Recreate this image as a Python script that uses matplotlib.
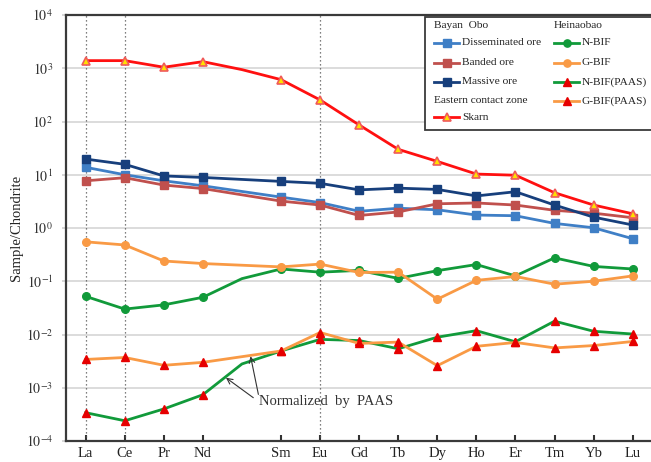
import matplotlib.pyplot as plt
from matplotlib.lines import Line2D
from matplotlib.patches import Rectangle
import numpy as np

plt.rcParams['font.family'] = ['Liberation Serif', 'DejaVu Serif']
plt.rcParams['mathtext.fontset'] = 'stix'

nan = np.nan
elements = ['La', 'Ce', 'Pr', 'Nd', 'Pm', 'Sm', 'Eu', 'Gd', 'Tb', 'Dy', 'Ho', 'Er', 'Tm', 'Yb', 'Lu']
tick_elements = [e for e in elements if e != 'Pm']

# chondrite-normalised REE (Pm only where the curve bends through it)
disseminated = [13.8, 10.0, 7.7, 6.2, nan, 3.8, 3.0, 2.06, 2.35, 2.2, 1.75, 1.7, 1.22, 1.01, 0.63]
banded = [7.7, 8.8, 6.4, 5.5, nan, 3.2, 2.7, 1.72, 2.0, 2.85, 2.95, 2.7, 2.15, 1.9, 1.56]
massive = [19.7, 15.7, 9.5, 8.9, nan, 7.5, 6.9, 5.2, 5.6, 5.3, 4.0, 4.8, 2.7, 1.6, 1.14]
skarn = [1390, 1390, 1045, 1330, 942, 611, 254, 86, 30, 17.8, 10.3, 9.8, 4.6, 2.7, 1.85]
n_bif = [0.052, 0.030, 0.036, 0.050, 0.112, 0.17, 0.148, 0.16, 0.113, 0.158, 0.206, 0.126, 0.275, 0.19, 0.17]
g_bif = [0.55, 0.48, 0.24, 0.215, nan, 0.186, 0.21, 0.146, 0.148, 0.046, 0.104, 0.123, 0.088, 0.10, 0.126]
# PAAS-normalised BIF
n_bif_paas = [0.00034, 0.00024, 0.00040, 0.00074, 0.0028, 0.0049, 0.0081, 0.0077, 0.0054, 0.0089,
              0.0118, 0.0073, 0.0178, 0.0115, 0.0102]
g_bif_paas = [0.0034, 0.0037, 0.00264, 0.0030, nan, 0.0049, 0.0109, 0.0068, 0.0072, 0.0026,
              0.0060, 0.0071, 0.0056, 0.0062, 0.0074]

c_dis = '#3f7fc6'
c_ban = '#c0504d'
c_mas = '#173f7c'
c_red = '#ff1010'
c_grn = '#119a3a'
c_org = '#f99a45'

styles = [
    ('Disseminated ore', disseminated, dict(color=c_dis, marker='s', mfc=c_dis, mec=c_dis, ms=5.5)),
    ('Banded ore', banded, dict(color=c_ban, marker='s', mfc=c_ban, mec=c_ban, ms=5.5)),
    ('Massive ore', massive, dict(color=c_mas, marker='s', mfc=c_mas, mec=c_mas, ms=5.5)),
    ('Skarn', skarn, dict(color=c_red, marker='^', mfc='#ffe000', mec='#f05a5a', ms=6, mew=1.2)),
    ('N-BIF', n_bif, dict(color=c_grn, marker='o', mfc=c_grn, mec=c_grn, ms=5.5)),
    ('G-BIF', g_bif, dict(color=c_org, marker='o', mfc=c_org, mec=c_org, ms=5.5)),
    ('N-BIF(PAAS)', n_bif_paas, dict(color=c_grn, marker='^', mfc='#e60000', mec='#e60000', ms=6)),
    ('G-BIF(PAAS)', g_bif_paas, dict(color=c_org, marker='^', mfc='#e60000', mec='#e60000', ms=6)),
]

fig = plt.figure(figsize=(6.51, 4.62), dpi=100)
W, H = 651.0, 462.0
ax = fig.add_axes([65.7 / W, 21 / H, (660 - 65.7) / W, 426 / H])

for x in [0, 1, 6]:
    ax.axvline(x, color='#555555', lw=0.9, ls=(0, (1, 2.2)), zorder=1)

for name, vals, kw in styles:
    y = np.array(vals, dtype=float)
    x = np.arange(len(y))
    ok = ~np.isnan(y)
    xs, ys = x[ok], y[ok]
    marks = [i for i, xi in enumerate(xs) if xi != 4]
    ax.plot(xs, ys, lw=2.0, markevery=marks, zorder=3, **kw)

ax.set_yscale('log')
ax.set_ylim(1e-4, 1e4)
ax.set_xlim(-0.512, 14.7)
ax.set_yticks([10.0 ** k for k in range(-4, 5)])
ax.set_yticklabels([r'$10^{%d}$' % k for k in range(-4, 5)], fontsize=10, color='#333333')
ax.minorticks_off()
ax.set_xticks([i for i, e in enumerate(elements) if e != 'Pm'])
ax.set_xticklabels(tick_elements, fontsize=10.5, color='#222222')
ax.tick_params(axis='x', direction='in', length=4, width=1.5, color='#333333', pad=4)
ax.tick_params(axis='y', direction='out', length=3, width=1.2, color='#d0d0d0', pad=6)
ax.yaxis.grid(True, color='#d9d9d9', lw=1.3)
ax.set_axisbelow(True)
for side in ['left', 'bottom', 'top']:
    ax.spines[side].set_color('#3a3a3a')
    ax.spines[side].set_linewidth(1.6)
ax.spines['right'].set_visible(False)
ax.set_ylabel('Sample/Chondrite', fontsize=10.5, labelpad=2, color='#222222')

ax.text(4.44, 5.6e-4, 'Normalized  by  PAAS', fontsize=10.5, color='#333333', va='center', zorder=5)
arrow = dict(arrowstyle='->', color='#333333', lw=0.8, shrinkA=0, shrinkB=0)
ax.annotate('', xy=(3.59, 0.00154), xytext=(4.29, 0.00065), arrowprops=arrow, zorder=5)
ax.annotate('', xy=(4.22, 0.0039), xytext=(4.42, 0.00075), arrowprops=arrow, zorder=5)


# legend with group headings, laid out in figure pixels
def fx(px):
    return px / W


def fy(py):
    return 1 - py / H


fig.add_artist(Rectangle((fx(425), fy(130)), fx(680) - fx(425), fy(17) - fy(130),
                         transform=fig.transFigure, facecolor='white', edgecolor='#3a3a3a',
                         lw=1.3, zorder=10))

rows = [26, 42.7, 62.7, 82, 100.7, 117.3]
col1 = [('Bayan  Obo', None), ('Disseminated ore', 0), ('Banded ore', 1), ('Massive ore', 2),
        ('Eastern contact zone', None), ('Skarn', 3)]
col2 = [('Heinaobao', None), ('N-BIF', 4), ('G-BIF', 5), ('N-BIF(PAAS)', 6), ('G-BIF(PAAS)', 7)]
for x0, col in [(434, col1), (554, col2)]:
    for row_y, (label, idx) in zip(rows, col):
        if idx is None:
            fig.text(fx(x0), fy(row_y), label, fontsize=8.2, va='center', ha='left',
                     color='#222222', zorder=11)
            continue
        kw = dict(styles[idx][2])
        kw['ms'] = kw['ms'] * 0.95
        fig.add_artist(Line2D([fx(x0), fx(x0 + 25)], [fy(row_y)] * 2, lw=2.0,
                              transform=fig.transFigure, zorder=11, **kw, markevery=[]))
        fig.add_artist(Line2D([fx(x0 + 12.5)], [fy(row_y)], lw=0, transform=fig.transFigure,
                              zorder=12, **{k: v for k, v in kw.items() if k != 'color'}))
        fig.text(fx(x0 + 28), fy(row_y), label, fontsize=8.2, va='center', ha='left',
                 color='#222222', zorder=11)

fig.savefig('out.png', dpi=100)
